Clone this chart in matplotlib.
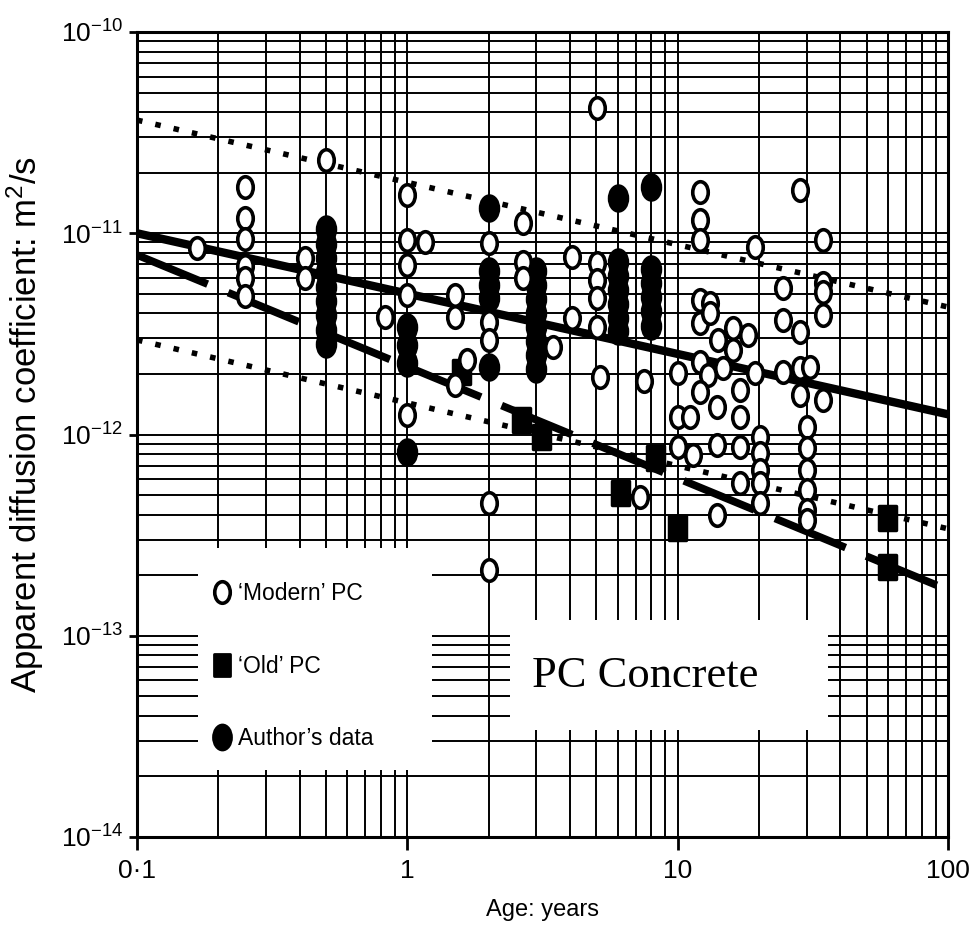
import numpy as np
import matplotlib
matplotlib.use("Agg")
import matplotlib.pyplot as plt
from matplotlib.path import Path
from matplotlib.transforms import Affine2D
from matplotlib.patches import Rectangle
from matplotlib.lines import Line2D
from matplotlib.ticker import FixedLocator, FixedFormatter, LogLocator, NullFormatter

plt.rcParams['font.family'] = ['Liberation Sans', 'DejaVu Sans']
plt.rcParams['mathtext.default'] = 'regular'
plt.rcParams['lines.scale_dashes'] = False

# ---------------- data ----------------
modern_x = [0.167,
            0.25, 0.25, 0.25, 0.25, 0.25, 0.25,
            0.42, 0.42, 0.5, 0.83,
            1.0, 1.0, 1.0, 1.0, 1.0, 1.16,
            1.5, 1.5, 1.66, 1.5,
            2.0, 2.0, 2.0, 2.0, 2.0,
            2.67, 2.67, 2.67, 3.45, 4.05, 4.05,
            5.05, 5.05, 5.05, 5.05, 5.05, 5.17,
            7.26, 7.5,
            12.1, 12.1, 12.1, 19.4, 28.4, 12.1, 13.2, 12.1, 13.2, 16.0,
            18.2, 14.1, 16.0, 24.6, 24.6, 28.4, 12.1, 14.7, 10.05, 13.0,
            19.4, 24.6, 28.4, 30.9, 12.1, 17.0, 28.4, 10.05, 11.1, 14.0,
            17.0, 30.1, 20.2, 10.05, 11.4, 14.0, 17.0, 20.2, 30.1, 20.2,
            30.1, 17.0, 20.2, 30.1, 20.2, 30.1, 14.0, 30.1,
            34.5, 34.5, 34.5, 34.5, 34.5]
modern_y = [8.45e-12,
            1.70e-11, 1.19e-11, 9.35e-12, 6.87e-12, 6.0e-12, 4.88e-12,
            7.53e-12, 6.0e-12, 2.31e-11, 3.84e-12,
            1.55e-11, 9.25e-12, 6.95e-12, 4.93e-12, 1.25e-12, 9.05e-12,
            4.93e-12, 3.84e-12, 2.34e-12, 1.76e-12,
            8.95e-12, 3.62e-12, 2.95e-12, 4.57e-13, 2.12e-13,
            1.12e-11, 7.2e-12, 6.0e-12, 2.72e-12, 7.62e-12, 3.79e-12,
            4.19e-11, 7.11e-12, 5.86e-12, 4.77e-12, 3.42e-12, 1.93e-12,
            4.89e-13, 1.85e-12,
            1.60e-11, 1.16e-11, 9.25e-12, 8.55e-12, 1.64e-11, 4.66e-12, 4.5e-12, 3.58e-12, 4.02e-12, 3.38e-12,
            3.12e-12, 2.95e-12, 2.63e-12, 5.35e-12, 3.71e-12, 3.23e-12, 2.29e-12, 2.14e-12, 2.02e-12, 1.98e-12,
            2.02e-12, 2.05e-12, 2.14e-12, 2.16e-12, 1.63e-12, 1.66e-12, 1.57e-12, 1.22e-12, 1.22e-12, 1.37e-12,
            1.22e-12, 1.09e-12, 9.72e-13, 8.67e-13, 7.91e-13, 8.87e-13, 8.67e-13, 8.09e-13, 8.57e-13, 6.66e-13,
            6.66e-13, 5.74e-13, 5.74e-13, 5.30e-13, 4.57e-13, 4.22e-13, 3.98e-13, 3.76e-13,
            9.25e-12, 5.66e-12, 5.1e-12, 3.93e-12, 1.48e-12]

old_x = [1.58, 2.64, 3.12, 6.13, 8.26, 9.95, 59.6, 59.6]
old_y = [2.05e-12, 1.18e-12, 9.72e-13, 5.12e-13, 7.64e-13, 3.43e-13, 3.85e-13, 2.2e-13]

author_x = [0.5] * 9 + [1.0] * 4 + [2.0] * 5 + [3.0] * 8 + [6.0] * 7 + [8.0] * 6
author_y = [1.05e-11, 8.85e-12, 7.53e-12, 6.42e-12, 5.41e-12, 4.61e-12, 3.93e-12, 3.31e-12, 2.82e-12,
            3.42e-12, 2.79e-12, 2.26e-12, 8.19e-13,
            1.335e-11, 6.49e-12, 5.53e-12, 4.77e-12, 2.16e-12,
            6.49e-12, 5.53e-12, 4.72e-12, 4.02e-12, 3.42e-12, 2.92e-12, 2.48e-12, 2.12e-12,
            1.50e-11, 7.2e-12, 6.14e-12, 5.24e-12, 4.45e-12, 3.79e-12, 3.27e-12,
            1.70e-11, 6.64e-12, 5.66e-12, 4.82e-12, 4.11e-12, 3.46e-12]

fit_x = [0.1, 100]
mean_line = [1.0e-11, 1.26e-12]
old_line = [7.8e-12, 1.69e-13]
upper_bound = [3.65e-11, 4.3e-12]
lower_bound = [2.95e-12, 3.4e-13]

xtick_vals = [0.1, 1, 10, 100]
xtick_labels = ['0·1', '1', '10', '100']
ytick_vals = [1e-14, 1e-13, 1e-12, 1e-11, 1e-10]
ytick_labels = ['$10^{-14}$', '$10^{-13}$', '$10^{-12}$', '$10^{-11}$', '$10^{-10}$']

legend_labels = ['‘Modern’ PC', '‘Old’ PC', 'Author’s data']

# ---------------- markers ----------------
ellipse = Path.unit_circle().transformed(Affine2D().scale(0.72, 1.0))
rect = Path([(-0.72, -1), (0.72, -1), (0.72, 1), (-0.72, 1), (-0.72, -1)],
            [Path.MOVETO, Path.LINETO, Path.LINETO, Path.LINETO, Path.CLOSEPOLY])

# ---------------- figure ----------------
fig = plt.figure(figsize=(9.73, 9.40), dpi=100)
ax = fig.add_axes([137 / 973, 1 - 837 / 940, (948 - 137) / 973, (837 - 32) / 940])
ax.set_xscale('log')
ax.set_yscale('log')
ax.set_xlim(0.1, 100)
ax.set_ylim(1e-14, 1e-10)

ax.set_axisbelow(True)
ax.xaxis.set_minor_locator(LogLocator(base=10, subs=np.arange(2, 10)))
ax.yaxis.set_minor_locator(LogLocator(base=10, subs=np.arange(2, 10)))
ax.xaxis.set_minor_formatter(NullFormatter())
ax.yaxis.set_minor_formatter(NullFormatter())
ax.grid(True, which='both', color='black', lw=1.4)

ax.xaxis.set_major_locator(FixedLocator(xtick_vals))
ax.xaxis.set_major_formatter(FixedFormatter(xtick_labels))
ax.yaxis.set_major_locator(FixedLocator(ytick_vals))
ax.yaxis.set_major_formatter(FixedFormatter(ytick_labels))
ax.tick_params(axis='x', which='major', direction='out', length=9.5, width=2, labelsize=19, pad=6)
ax.tick_params(axis='y', which='major', direction='out', length=6, width=2, labelsize=19, pad=4)
ax.tick_params(which='minor', length=0)
for s in ax.spines.values():
    s.set_linewidth(2.2)
    s.set_color('black')

# white boxes hiding the grid (legend area and title area)
ax.add_patch(Rectangle((0.075, 0.083), 0.289, 0.276, transform=ax.transAxes,
                       facecolor='white', edgecolor='none', zorder=1))
ax.add_patch(Rectangle((0.46, 0.133), 0.392, 0.137, transform=ax.transAxes,
                       facecolor='white', edgecolor='none', zorder=1))

# fitted lines
ax.plot(fit_x, mean_line, color='black', lw=6, solid_capstyle='butt', zorder=2)
ax.plot(fit_x, old_line, color='black', lw=5.5, dashes=(55, 16), dash_capstyle='butt', zorder=2)
ax.plot(fit_x, upper_bound, color='black', lw=4, dashes=(4, 9.5), dash_capstyle='butt', zorder=2)
ax.plot(fit_x, lower_bound, color='black', lw=4, dashes=(4, 9.5), dash_capstyle='butt', zorder=2)

# data
ax.plot(author_x, author_y, ls='none', marker=ellipse, ms=18, mfc='black', mec='black', mew=2.5, zorder=3)
ax.plot(old_x, old_y, ls='none', marker=rect, ms=17, mfc='black', mec='black', mew=2.5, zorder=3)
ax.plot(modern_x, modern_y, ls='none', marker=ellipse, ms=15.5, mfc='white', mec='black', mew=2.6, zorder=4)

# legend
handles = [Line2D([], [], ls='none', marker=ellipse, ms=15.5, mfc='white', mec='black', mew=2.6),
           Line2D([], [], ls='none', marker=rect, ms=16, mfc='black', mec='black', mew=2),
           Line2D([], [], ls='none', marker=ellipse, ms=18, mfc='black', mec='black', mew=2)]
leg = ax.legend(handles, legend_labels, loc='upper left', bbox_to_anchor=(0.0936, 0.317),
                frameon=False, fontsize=16.5, handlelength=0.8, handletextpad=0.3,
                labelspacing=2.17, borderaxespad=0, borderpad=0)
leg.set_zorder(6)

ax.text(0.627, 0.200, 'PC Concrete', transform=ax.transAxes, ha='center', va='center',
        fontsize=32, family=['Liberation Serif', 'DejaVu Serif'], zorder=6)

ax.set_xlabel('Age: years', fontsize=17, labelpad=12)
ax.set_ylabel('Apparent diffusion coefficient: m$^2$/s', fontsize=25, labelpad=10)
ax.yaxis.set_label_coords(-0.112, 0.513)

fig.savefig('out.png', dpi=100)
